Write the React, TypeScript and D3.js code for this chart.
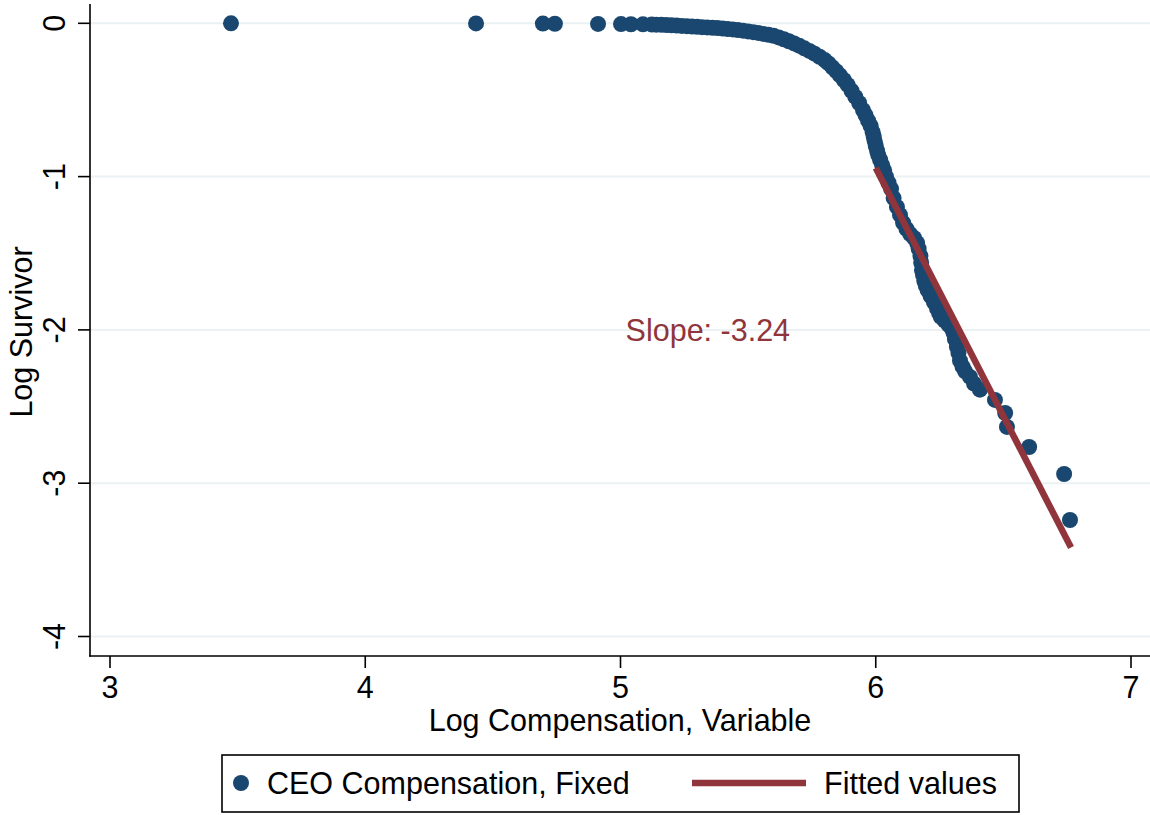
import React from "react";
import * as d3 from "d3";

// Log compensation (x) vs log survivor (y)
const survivorPoints: [number, number][] = [
  [3.474, 0], [4.434, -0.001], [4.696, -0.002], [4.743, -0.003], [4.912, -0.004],
  [5.002, -0.005], [5.041, -0.006], [5.088, -0.007], [5.123, -0.008], [5.14, -0.009],
  [5.16, -0.01], [5.18, -0.011], [5.2, -0.013], [5.22, -0.015], [5.24, -0.017],
  [5.26, -0.019], [5.28, -0.021], [5.3, -0.023], [5.32, -0.025], [5.34, -0.027],
  [5.36, -0.029], [5.38, -0.031], [5.4, -0.034], [5.42, -0.037], [5.44, -0.04],
  [5.46, -0.044], [5.48, -0.048], [5.5, -0.053], [5.52, -0.058], [5.54, -0.063],
  [5.56, -0.069], [5.58, -0.075], [5.6, -0.082], [5.62, -0.092], [5.64, -0.104],
  [5.66, -0.117], [5.68, -0.131], [5.7, -0.146], [5.72, -0.163], [5.74, -0.18],
  [5.76, -0.198], [5.78, -0.218], [5.8, -0.24], [5.815, -0.262], [5.83, -0.287],
  [5.845, -0.312], [5.86, -0.34], [5.875, -0.37], [5.89, -0.402], [5.905, -0.44],
  [5.92, -0.48], [5.935, -0.52], [5.95, -0.566], [5.96, -0.6], [5.97, -0.635],
  [5.98, -0.67], [5.988, -0.71], [5.992, -0.74], [5.996, -0.77], [6.0, -0.8],
  [6.005, -0.83], [6.01, -0.86], [6.017, -0.89], [6.025, -0.925], [6.033, -0.96],
  [6.04, -1.0], [6.05, -1.04], [6.06, -1.08], [6.07, -1.14], [6.083, -1.198],
  [6.095, -1.25], [6.107, -1.3], [6.12, -1.34], [6.135, -1.375], [6.15, -1.4],
  [6.162, -1.433], [6.168, -1.47], [6.175, -1.518], [6.178, -1.56], [6.181, -1.61],
  [6.185, -1.64], [6.19, -1.68], [6.196, -1.71], [6.203, -1.74], [6.215, -1.78],
  [6.228, -1.82], [6.24, -1.86], [6.248, -1.89], [6.255, -1.915], [6.27, -1.94],
  [6.285, -1.965], [6.297, -1.99], [6.305, -2.02], [6.31, -2.06], [6.318, -2.11],
  [6.324, -2.15], [6.33, -2.2], [6.34, -2.24], [6.35, -2.27], [6.369, -2.307],
  [6.385, -2.35], [6.408, -2.39], [6.467, -2.457], [6.507, -2.542], [6.514, -2.633],
  [6.601, -2.764], [6.738, -2.94], [6.761, -3.24],
];

const fittedX = [6.0, 6.765];
const fittedY = [-0.944, -3.42];

const xTicks = [3, 4, 5, 6, 7];
const yTicks = [0, -1, -2, -3, -4];

const slopeLabel = "Slope: -3.24";
const slopeLabelAt: [number, number] = [5.02, -2];

const xTitle = "Log Compensation, Variable";
const yTitle = "Log Survivor";
const legendLabels = ["CEO Compensation, Fixed", "Fitted values"];

const NAVY = "#1a476f";
const MAROON = "#90353b";
const GRID = "#eaf2f3";
const FONT = "'Liberation Sans', Arial, Helvetica, sans-serif";
const FS = 30.5;

export default function App() {
  const W = 1150;
  const H = 815;
  const axisLeft = 90;
  const axisBottom = 656;
  const x = d3.scaleLinear().domain([3, 7]).range([110, 1131]);
  const y = d3.scaleLinear().domain([0, -4]).range([23.3, 636.5]);

  const line = d3
    .line<number>()
    .x((d) => x(d))
    .y((_, i) => y(fittedY[i]));

  return (
    <svg
      width={W}
      height={H}
      style={{ position: "absolute", left: 0, top: 0, background: "#fff" }}
      fontFamily={FONT}
    >
      {/* gridlines */}
      {yTicks.map((t) => (
        <line key={"g" + t} x1={axisLeft} x2={W} y1={y(t)} y2={y(t)} stroke={GRID} strokeWidth={2} />
      ))}

      {/* axes */}
      <line x1={axisLeft} x2={axisLeft} y1={4} y2={axisBottom + 0.75} stroke="#000" strokeWidth={1.6} />
      <line x1={axisLeft - 0.75} x2={W} y1={axisBottom} y2={axisBottom} stroke="#000" strokeWidth={1.6} />

      {yTicks.map((t) => (
        <g key={"yt" + t}>
          <line x1={axisLeft - 12} x2={axisLeft} y1={y(t)} y2={y(t)} stroke="#000" strokeWidth={1.6} />
          <text
            transform={`translate(${65},${y(t)}) rotate(-90)`}
            textAnchor="middle"
            fontSize={FS}
            fill="#000"
          >
            {t}
          </text>
        </g>
      ))}
      {xTicks.map((t) => (
        <g key={"xt" + t}>
          <line x1={x(t)} x2={x(t)} y1={axisBottom} y2={axisBottom + 12} stroke="#000" strokeWidth={1.6} />
          <text x={x(t)} y={698} textAnchor="middle" fontSize={FS} fill="#000">
            {t}
          </text>
        </g>
      ))}

      {/* axis titles */}
      <text x={620} y={731} textAnchor="middle" fontSize={FS} fill="#000">
        {xTitle}
      </text>
      <text
        transform={`translate(${32},${332}) rotate(-90)`}
        textAnchor="middle"
        fontSize={FS}
        fill="#000"
      >
        {yTitle}
      </text>

      {/* scatter */}
      {survivorPoints.map((p, i) => (
        <circle key={i} cx={x(p[0])} cy={y(p[1])} r={8} fill={NAVY} />
      ))}

      {/* fitted line */}
      <path d={line(fittedX) || ""} stroke={MAROON} strokeWidth={6.5} fill="none" />

      {/* slope label */}
      <text
        x={x(slopeLabelAt[0])}
        y={y(slopeLabelAt[1]) + 11}
        fontSize={FS}
        fill={MAROON}
      >
        {slopeLabel}
      </text>

      {/* legend */}
      <rect x={222} y={755} width={797} height={57} fill="#fff" stroke="#000" strokeWidth={1.6} />
      <circle cx={241} cy={783} r={8} fill={NAVY} />
      <text x={267} y={794} fontSize={FS} fill="#000">
        {legendLabels[0]}
      </text>
      <line x1={692} x2={806} y1={783} y2={783} stroke={MAROON} strokeWidth={6.5} />
      <text x={824} y={794} fontSize={FS} fill="#000">
        {legendLabels[1]}
      </text>
    </svg>
  );
}
